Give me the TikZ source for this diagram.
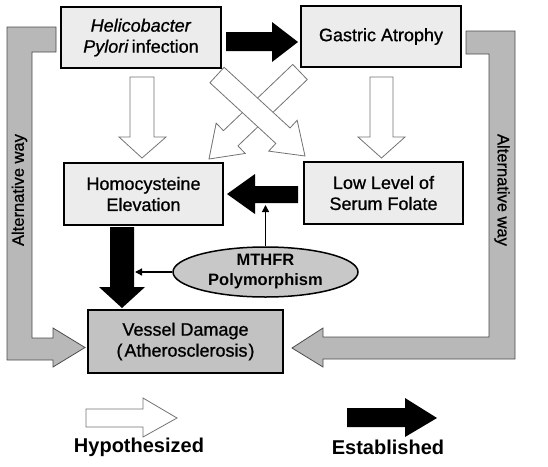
\documentclass[tikz,border=0pt]{standalone}
\usepackage{fontspec}
\setmainfont{Liberation Sans}
\newfontfamily\boxfont{Liberation Sans}[FakeBold=0.9]
\usetikzlibrary{shapes.geometric,arrows.meta}
\tikzset{
  box/.style={draw=black, line width=1.5pt, fill=boxgray, align=center, inner sep=0pt,
    font=\boxfont\fontsize{18}{21}\selectfont},
  whitearrow/.style={draw=black!55, line width=0.8pt, fill=white, line join=miter},
  blackarrow/.style={fill=black, draw=none},
  grayarrow/.style={draw=black!70, line width=0.8pt, fill=bracketgray},
  thinarrow/.style={draw=black, line width=1.3pt, -{Triangle[length=7pt,width=7pt]}},
  sidelabel/.style={font=\boxfont\fontsize{16.5}{18}\selectfont},
  legend/.style={font=\bfseries\fontsize{20}{22}\selectfont}
}
\definecolor{boxgray}{HTML}{ECECEC}
\definecolor{vesselgray}{HTML}{C2C2C2}
\definecolor{ellgray}{HTML}{C8C8C8}
\definecolor{bracketgray}{HTML}{B8B8B8}
\begin{document}
\begin{tikzpicture}[x=1pt,y=-1pt]
\useasboundingbox (0,0) rectangle (548,466);
% gray side brackets
\path[grayarrow] (56,27) -- (7,27) -- (7,360) -- (53,360) -- (53,367) -- (85,347.5) -- (53,328) -- (53,338) -- (32,338) -- (32,52) -- (56,52) -- cycle;
\path[grayarrow] (466,31) -- (515,31) -- (515,359) -- (323,359) -- (323,367) -- (292,348) -- (323,328) -- (323,337) -- (489,337) -- (489,54) -- (466,54) -- cycle;
\node[sidelabel, rotate=90] (altl) at (19.5,190) {Alternative way};
\node[sidelabel, rotate=-90] (altr) at (502,190) {Alternative way};
% boxes
\node[box, minimum width=160pt, minimum height=61pt] (hp) at (141,37.5) {\textit{Helicobacter}\\\textit{Pylori}\,infection};
\node[box, minimum width=160pt, minimum height=61pt] (ga) at (381,36.5) {Gastric Atrophy};
\node[box, minimum width=159pt, minimum height=62pt] (hc) at (143.5,194) {Homocysteine\\Elevation};
\node[box, minimum width=159pt, minimum height=62pt] (lf) at (383.5,193) {Low Level of\\Serum Folate};
\node[box, fill=vesselgray, minimum width=195pt, minimum height=63pt] (vd) at (185.5,341.5) {Vessel Damage\\(\kern2pt Atherosclerosis\kern1pt)};
\node[ellipse, draw=black, line width=1.5pt, fill=ellgray, minimum width=185pt, minimum height=50pt, inner sep=0pt, align=center, font=\bfseries\fontsize{16.5}{20}\selectfont] (mt) at (265.5,272) {MTHFR\\Polymorphism};
% established arrows
\path[blackarrow] (226,32) -- (272,32) -- (272,22) -- (298,42) -- (272,62) -- (272,51) -- (226,51) -- cycle;
\path[blackarrow] (298,186) -- (255,186) -- (255,174) -- (227,194) -- (255,214) -- (255,203) -- (298,203) -- cycle;
\path[blackarrow] (110,227) -- (134,227) -- (134,287) -- (145,287) -- (122,308) -- (99,287) -- (110,287) -- cycle;
% hypothesized arrows
\path[whitearrow] (130,77) -- (154,77) -- (154,137) -- (166,137) -- (142,158) -- (119,137) -- (130,137) -- cycle;
\path[whitearrow] (370,77) -- (393,77) -- (393,137) -- (405,137) -- (381.5,158) -- (358,137) -- (370,137) -- cycle;
\path[whitearrow] (307.26,79.59) -- (237.94,145.86) -- (245.19,153.45) -- (209,159) -- (216.17,123.09) -- (223.42,130.68) -- (292.74,64.41) -- cycle;
\path[whitearrow] (224.11,67.27) -- (290.04,127.95) -- (297.15,120.23) -- (305,156) -- (268.71,151.13) -- (275.82,143.41) -- (209.89,82.73) -- cycle;
% MTHFR influence
\coordinate (mtup) at (265.5,205);
\coordinate (mtleft) at (135,272);
\draw[thinarrow] (mt.north) -- (mtup);
\draw[thinarrow] (mt.west) -- (mtleft);
% legend
\path[whitearrow] (86,409) -- (143,409) -- (143,398) -- (177,418) -- (143,437) -- (143,427) -- (86,427) -- cycle;
\path[blackarrow] (347,408) -- (405,408) -- (405,398) -- (437,418) -- (405,437) -- (405,427) -- (347,427) -- cycle;
\node[legend] (hyp) at (139,447) {Hypothesized};
\node[legend] (est) at (388,447) {Established};
\end{tikzpicture}
\end{document}
